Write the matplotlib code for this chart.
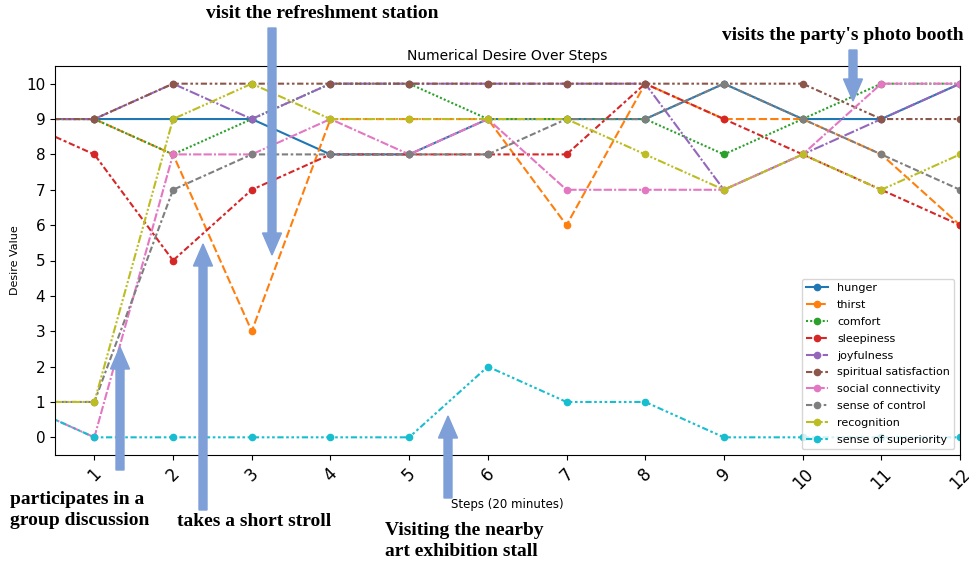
import matplotlib.pyplot as plt
from matplotlib.patches import FancyArrow
from matplotlib.transforms import IdentityTransform

steps = list(range(0, 13))

hunger = [9, 9, 9, 9, 8, 8, 9, 9, 9, 10, 9, 9, 10]
thirst = [9, 9, 8, 3, 9, 9, 9, 6, 10, 9, 9, 8, 6]
comfort = [9, 9, 8, 9, 10, 10, 9, 9, 9, 8, 9, 10, 10]
sleepiness = [9, 8, 5, 7, 8, 8, 8, 8, 10, 9, 8, 7, 6]
joyfulness = [9, 9, 10, 9, 10, 10, 10, 10, 10, 7, 8, 9, 10]
spiritual = [9, 9, 10, 10, 10, 10, 10, 10, 10, 10, 10, 9, 9]
social = [1, 0, 8, 8, 9, 8, 9, 7, 7, 7, 8, 10, 10]
control = [1, 1, 7, 8, 8, 8, 8, 9, 9, 10, 9, 8, 7]
recognition = [1, 1, 9, 10, 9, 9, 9, 9, 8, 7, 8, 7, 8]
superiority = [1, 0, 0, 0, 0, 0, 2, 1, 1, 0, 0, 0, 0]

names = ['hunger', 'thirst', 'comfort', 'sleepiness', 'joyfulness',
         'spiritual satisfaction', 'social connectivity', 'sense of control',
         'recognition', 'sense of superiority']
series = [hunger, thirst, comfort, sleepiness, joyfulness,
          spiritual, social, control, recognition, superiority]

# seaborn-like dash patterns
dashes = [(), (4, 1.5), (1, 1), (3, 1.25, 1.5, 1.25), (5, 1, 1, 1),
          (3, 1.25, 1.25, 1.25, 1.25, 1.25), (4, 1, 4, 1, 1, 1),
          (3, 1.25, 3, 1.25, 1.25, 1.25), (4, 1, 1, 1, 1, 1),
          (3, 1.25, 1.25, 1.25, 1.25, 1.25, 1.25, 1.25)]
colors = plt.rcParams['axes.prop_cycle'].by_key()['color']

fig = plt.figure(figsize=(9.69, 5.65), dpi=100)
ax = fig.add_axes([55/969, 1-455/565, 905/969, 389/565])

for name, vals, d, c in zip(names, series, dashes, colors):
    ax.plot(steps, vals, color=c, marker='o', markersize=4.5, linewidth=1.5,
            dashes=d, label=name)

ax.set_xlim(0.5, 12)
ax.set_ylim(-0.5, 10.5)
ax.set_xticks(range(1, 13))
ax.set_yticks(range(0, 11))
ax.tick_params(axis='x', labelsize=12, labelrotation=45)
ax.tick_params(axis='y', labelsize=11)
ax.set_title('Numerical Desire Over Steps', fontsize=10, pad=4)
ax.set_ylabel('Desire Value', fontsize=8)
ax.set_xlabel('Steps (20 minutes)', fontsize=8.5, labelpad=4)
ax.legend(loc='lower right', fontsize=8, labelspacing=0.62)

# annotation arrows (reference pixel coords, y from top)
H = 565
arrow_color = '#7f9fd8'


def arrow(x, y0, y1):
    a = FancyArrow(x, H - y0, 0, -(y1 - y0), width=8, head_width=19,
                   head_length=22, length_includes_head=True,
                   color=arrow_color, transform=IdentityTransform())
    fig.add_artist(a)


arrow(272, 28, 255)
arrow(853, 50, 101)
arrow(120, 470, 347)
arrow(203, 510, 244)
arrow(448, 498, 416)

tf = dict(family='Liberation Serif', fontweight='bold', fontsize=14,
          transform=IdentityTransform())
fig.text(322, H - 14, 'visit the refreshment station', ha='center', va='center', **tf)
fig.text(843, H - 35, "visits the party's photo booth", ha='center', va='center', **tf)
fig.text(10, H - 510, 'participates in a\ngroup discussion', ha='left', va='center',
         linespacing=1.3, **tf)
fig.text(177, H - 522, 'takes a short stroll', ha='left', va='center', **tf)
fig.text(385, H - 541, 'Visiting the nearby\nart exhibition stall', ha='left', va='center',
         linespacing=1.3, **tf)

fig.savefig('out.png', dpi=100)
